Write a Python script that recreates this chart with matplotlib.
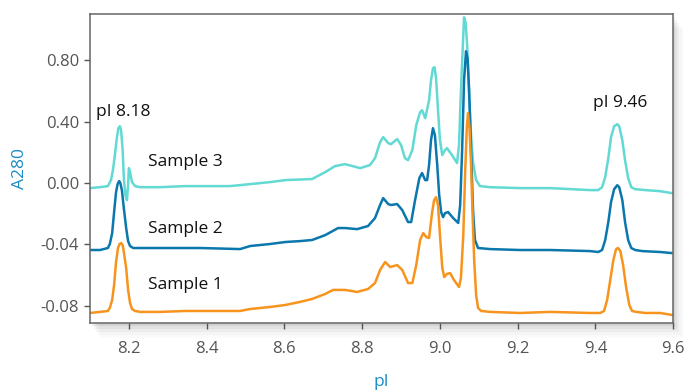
import matplotlib
matplotlib.use('Agg')
import matplotlib.pyplot as plt
from matplotlib.patches import Rectangle

plt.rcParams['font.family'] = ['Open Sans', 'DejaVu Sans']

# traces (pI, A280)
s1_x = [8.100, 8.126, 8.146, 8.151, 8.157, 8.162, 8.167, 8.172, 8.176, 8.180, 8.184, 8.187,
        8.193, 8.198, 8.203, 8.208, 8.216, 8.229, 8.280, 8.344, 8.383, 8.486, 8.512, 8.563,
        8.602, 8.640, 8.671, 8.705, 8.725, 8.756, 8.787, 8.815, 8.833, 8.846, 8.859, 8.872,
        8.890, 8.903, 8.918, 8.929, 8.939, 8.949, 8.957, 8.965, 8.972, 8.975, 8.980, 8.985,
        8.990, 8.995, 9.000, 9.006, 9.011, 9.018, 9.026, 9.036, 9.049, 9.054, 9.060, 9.065,
        9.069, 9.072, 9.076, 9.080, 9.084, 9.088, 9.093, 9.098, 9.106, 9.129, 9.206, 9.283,
        9.386, 9.412, 9.422, 9.430, 9.438, 9.446, 9.453, 9.458, 9.464, 9.471, 9.479, 9.487,
        9.494, 9.505, 9.528, 9.566, 9.597]
s1_y = [-0.0846, -0.0839, -0.0833, -0.0813, -0.0761, -0.0664, -0.0514, -0.0423, -0.0397, -0.0391,
        -0.0404, -0.0449, -0.0553, -0.0696, -0.0781, -0.0820, -0.0833, -0.0839, -0.0839, -0.0833,
        -0.0833, -0.0833, -0.0820, -0.0807, -0.0794, -0.0774, -0.0755, -0.0722, -0.0696, -0.0696,
        -0.0709, -0.0690, -0.0651, -0.0566, -0.0514, -0.0547, -0.0534, -0.0566, -0.0651, -0.0651,
        -0.0534, -0.0371, -0.0326, -0.0352, -0.0358, -0.0293, -0.0189, -0.0111, -0.0092, -0.0143,
        -0.0339, -0.0553, -0.0612, -0.0592, -0.0586, -0.0631, -0.0677, -0.0618, -0.0339, 0.0084,
        0.0357, 0.0455, 0.0357, 0.0117, -0.0209, -0.0501, -0.0729, -0.0813, -0.0833, -0.0839,
        -0.0846, -0.0839, -0.0846, -0.0846, -0.0833, -0.0761, -0.0631, -0.0501, -0.0430, -0.0423,
        -0.0443, -0.0534, -0.0683, -0.0794, -0.0833, -0.0839, -0.0846, -0.0846, -0.0859]

s2_x = [8.100, 8.126, 8.146, 8.151, 8.157, 8.162, 8.167, 8.171, 8.175, 8.178, 8.182, 8.187,
        8.193, 8.198, 8.203, 8.211, 8.229, 8.280, 8.344, 8.383, 8.486, 8.512, 8.563, 8.602,
        8.640, 8.671, 8.705, 8.738, 8.756, 8.787, 8.815, 8.833, 8.846, 8.854, 8.867, 8.874,
        8.890, 8.903, 8.918, 8.926, 8.936, 8.947, 8.954, 8.962, 8.967, 8.972, 8.977, 8.982,
        8.987, 8.993, 8.998, 9.003, 9.008, 9.013, 9.021, 9.034, 9.047, 9.052, 9.057, 9.062,
        9.067, 9.071, 9.075, 9.080, 9.085, 9.090, 9.098, 9.129, 9.206, 9.283, 9.386, 9.407,
        9.417, 9.425, 9.433, 9.440, 9.448, 9.456, 9.461, 9.469, 9.476, 9.484, 9.492, 9.502,
        9.520, 9.566, 9.597]
s2_y = [-0.0436, -0.0436, -0.0423, -0.0397, -0.0326, -0.0189, -0.0059, -0.0007, 0.0013, 0.0000,
        -0.0046, -0.0163, -0.0293, -0.0378, -0.0410, -0.0423, -0.0423, -0.0423, -0.0423, -0.0423,
        -0.0430, -0.0410, -0.0397, -0.0384, -0.0378, -0.0371, -0.0339, -0.0293, -0.0293, -0.0300,
        -0.0280, -0.0228, -0.0143, -0.0098, -0.0137, -0.0143, -0.0137, -0.0176, -0.0254, -0.0254,
        -0.0111, 0.0032, 0.0065, 0.0019, 0.0019, 0.0117, 0.0279, 0.0357, 0.0312, 0.0117,
        -0.0078, -0.0189, -0.0222, -0.0196, -0.0189, -0.0228, -0.0260, -0.0143, 0.0214, 0.0669,
        0.0858, 0.0812, 0.0604, 0.0214, -0.0176, -0.0371, -0.0423, -0.0430, -0.0436, -0.0436,
        -0.0443, -0.0449, -0.0436, -0.0371, -0.0254, -0.0124, -0.0040, -0.0014, -0.0027, -0.0111,
        -0.0254, -0.0371, -0.0423, -0.0436, -0.0443, -0.0449, -0.0456]

s3_x = [8.100, 8.126, 8.146, 8.154, 8.159, 8.164, 8.169, 8.173, 8.177, 8.180, 8.184, 8.187,
        8.191, 8.195, 8.198, 8.200, 8.203, 8.208, 8.216, 8.229, 8.280, 8.344, 8.383, 8.460,
        8.512, 8.563, 8.602, 8.671, 8.705, 8.730, 8.756, 8.795, 8.820, 8.833, 8.846, 8.854,
        8.867, 8.874, 8.890, 8.900, 8.910, 8.918, 8.929, 8.939, 8.949, 8.954, 8.962, 8.972,
        8.977, 8.982, 8.986, 8.990, 8.995, 9.000, 9.006, 9.013, 9.018, 9.031, 9.044, 9.049,
        9.054, 9.060, 9.062, 9.066, 9.070, 9.075, 9.080, 9.085, 9.093, 9.103, 9.129, 9.206,
        9.283, 9.386, 9.407, 9.417, 9.425, 9.433, 9.440, 9.448, 9.456, 9.461, 9.469, 9.476,
        9.484, 9.492, 9.502, 9.528, 9.566, 9.597]
s3_y = [-0.0033, -0.0027, -0.0020, 0.0019, 0.0084, 0.0182, 0.0292, 0.0357, 0.0370, 0.0344,
        0.0214, 0.0032, -0.0079, -0.0111, -0.0014, 0.0097, 0.0071, 0.0006, -0.0020, -0.0027,
        -0.0027, -0.0020, -0.0020, -0.0020, -0.0007, 0.0006, 0.0019, 0.0026, 0.0071, 0.0110,
        0.0123, 0.0097, 0.0117, 0.0162, 0.0266, 0.0299, 0.0260, 0.0253, 0.0286, 0.0247,
        0.0162, 0.0149, 0.0214, 0.0377, 0.0461, 0.0474, 0.0422, 0.0539, 0.0669, 0.0747,
        0.0754, 0.0682, 0.0474, 0.0279, 0.0182, 0.0214, 0.0227, 0.0182, 0.0130, 0.0247,
        0.0604, 0.0962, 0.1079, 0.1046, 0.0897, 0.0572, 0.0312, 0.0136, 0.0019, -0.0020,
        -0.0027, -0.0033, -0.0033, -0.0046, -0.0046, -0.0027, 0.0039, 0.0162, 0.0299, 0.0370,
        0.0383, 0.0370, 0.0279, 0.0149, 0.0032, -0.0027, -0.0040, -0.0046, -0.0053, -0.0066]

y_ticks = [-0.08, -0.04, 0.0, 0.04, 0.08]
y_tick_labels = ['-0.08', '-0.04', '0.00', '0.40', '0.80']
x_ticks = [8.2, 8.4, 8.6, 8.8, 9.0, 9.2, 9.4, 9.6]

c_orange = '#f7941d'
c_blue = '#0a77ad'
c_cyan = '#62d9d3'
c_label = '#1b8cc4'
c_tick = '#555555'

fig = plt.figure(figsize=(6.87, 3.91), dpi=100)
ax = fig.add_axes([0.131, 0.174, 0.849, 0.790])

# soft drop shadow behind the plot box
for i, a in enumerate([0.06, 0.045, 0.035, 0.025, 0.015]):
    off = 0.003 * (i + 1)
    fig.patches.append(Rectangle((0.131 + off, 0.174 - off * 2.5), 0.849, 0.790,
                                 transform=fig.transFigure, facecolor='#000000',
                                 alpha=a, edgecolor='none', zorder=-1))

for xs, ys, c in [(s3_x, s3_y, c_cyan), (s2_x, s2_y, c_blue), (s1_x, s1_y, c_orange)]:
    ax.plot(xs, ys, color=c, lw=1.8, solid_joinstyle='round', solid_capstyle='round')

ax.set_xlim(8.1, 9.6)
ax.set_ylim(-0.0911, 0.110)
ax.set_xticks(x_ticks)
ax.set_xticklabels([f'{t:.1f}' for t in x_ticks])
ax.set_yticks(y_ticks)
ax.set_yticklabels(y_tick_labels)
ax.tick_params(axis='x', length=4, width=1, colors=c_tick, labelsize=12, pad=9)
ax.tick_params(axis='y', length=4, width=1, colors=c_tick, labelsize=12, pad=4)
for s in ax.spines.values():
    s.set_color('#666666')
    s.set_linewidth(1.1)

ax.set_xlabel('pI', color=c_label, fontsize=12.5, labelpad=12)
ax.set_ylabel('A280', color=c_label, fontsize=12.5, labelpad=9)

ax.text(8.185, 0.0461, 'pI 8.18', ha='center', va='center', fontsize=12.5, color='#111111')
ax.text(9.463, 0.0520, 'pI 9.46', ha='center', va='center', fontsize=12.5, color='#111111')
ax.text(8.249, 0.0136, 'Sample 3', ha='left', va='center', fontsize=12.5, color='#111111')
ax.text(8.249, -0.0300, 'Sample 2', ha='left', va='center', fontsize=12.5, color='#111111')
ax.text(8.249, -0.0664, 'Sample 1', ha='left', va='center', fontsize=12.5, color='#111111')

fig.savefig('out.png', dpi=100, facecolor='white')
